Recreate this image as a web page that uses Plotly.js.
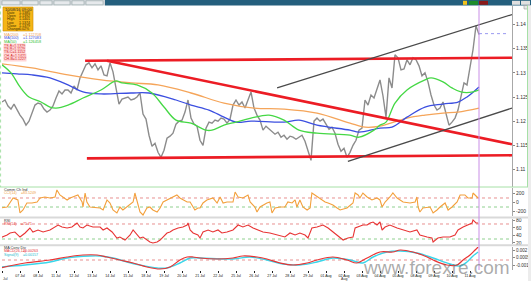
<!DOCTYPE html>
<html><head><meta charset="utf-8">
<script src="https://cdn.plot.ly/plotly-3.0.1.min.js"></script>
<style>html,body{margin:0;padding:0;background:#fff;overflow:hidden}#c{width:531px;height:281px}</style>
</head><body><div id="c"></div>
<script>
// ---- price closes (one per bar) ----
const closes = [1.12396,1.12438,1.12313,1.1225,1.12354,1.12229,1.12125,1.12042,1.11917,1.12,
1.12188,1.12333,1.12375,1.12354,1.1225,1.12188,1.12229,1.12313,1.12479,1.12625,
1.12563,1.12646,1.12646,1.12583,1.12729,1.12646,1.12896,1.13021,1.13167,1.13208,
1.13104,1.13188,1.13063,1.13146,1.12958,1.12938,1.13208,1.13021,1.12646,1.12354,
1.12458,1.12479,1.125,1.12438,1.12458,1.125,1.12583,1.12146,1.12042,1.11708,
1.11479,1.11542,1.11354,1.1125,1.11396,1.11646,1.11688,1.1175,1.11938,1.12,
1.12021,1.12188,1.12438,1.12063,1.11938,1.11896,1.11604,1.115,1.11854,1.11979,
1.11958,1.12021,1.12,1.12063,1.12042,1.11958,1.12042,1.12333,1.12438,1.12333,
1.12396,1.12271,1.12438,1.12604,1.12271,1.12125,1.12021,1.11813,1.11896,1.11833,
1.11792,1.11729,1.11771,1.11667,1.11708,1.11625,1.11688,1.11667,1.11625,1.11667,
1.11708,1.11583,1.11396,1.11188,1.12,1.12063,1.12,1.12042,1.11938,1.11833,
1.11875,1.1175,1.11521,1.11375,1.11438,1.1125,1.11354,1.115,1.11604,1.11813,
1.11854,1.12438,1.12333,1.12542,1.12479,1.12646,1.12854,1.12521,1.12083,1.12896,
1.12688,1.13375,1.13313,1.13063,1.13083,1.13271,1.13167,1.13313,1.13271,1.13146,
1.12938,1.13,1.12813,1.12542,1.12333,1.12229,1.12271,1.12396,1.12167,1.11917,
1.11979,1.12063,1.12229,1.125,1.12792,1.1275,1.13104,1.13479,1.13979,1.13792];

// ---- moving averages ----
const maSlowBars = [0,10,22,33,43,52,63,74,84,94,105,116,121,126,135,141,147,152,159];
const maSlow = [1.13188,1.13104,1.12958,1.12854,1.12792,1.1275,1.12583,1.12375,1.12271,1.1225,1.12167,1.11958,1.11875,1.11896,1.12063,1.12125,1.12167,1.12188,1.12271];
const maMidBars = [0,5,10,16,22,27,33,43,49,58,63,69,74,78,83,94,99,105,116,119,126,130,135,141,147,152,155,159];
const maMid = [1.13,1.12979,1.12958,1.12896,1.1275,1.12604,1.12563,1.12583,1.12583,1.12438,1.12333,1.12229,1.12083,1.11979,1.12,1.11979,1.12021,1.11917,1.11813,1.11771,1.11854,1.11875,1.12083,1.12292,1.12354,1.12396,1.125,1.12708];
const maFastBars = [0,3,6,9,13,16,18,22,27,33,38,40,45,50,54,58,63,68,70,74,78,83,89,94,99,105,116,119,124,126,128,131,135,141,143,147,150,153,157,159];
const maFast = [1.13167,1.13,1.12708,1.125,1.12396,1.12292,1.12271,1.12333,1.12479,1.12646,1.12833,1.12792,1.1275,1.12583,1.12292,1.12021,1.11958,1.11813,1.11813,1.11917,1.11979,1.12063,1.12125,1.12021,1.11813,1.1175,1.11708,1.11667,1.11813,1.11917,1.11979,1.12375,1.12646,1.12854,1.12896,1.12813,1.12688,1.12604,1.12604,1.12646];

// ---- drawn trend lines (bar, price) ----
const resBars = [27.7,170], resLine = [1.1325,1.13313];
const supBars = [28.3,170], supLine = [1.11229,1.11292];
const descBars = [35,170], descLine = [1.1325,1.11521];
const chUpBars = [91.7,170], chUp = [1.12688,1.14208];
const chLoBars = [115.3,170], chLo = [1.11167,1.12271];
const lastPrice = 1.13813;

// ---- CCI(14) ----
const cciBars = [-0.7,1.7,3.7,5.3,6,7,8.3,10,11.7,12.7,14.3,16,17.7,18.3,19.3,20.3,21.7,22.7,23.7,25.3,26.7,27,27.7,28.3,29.3,31.7,32.7,33.7,35,36,37,38.3,39.3,40.3,41.7,43.7,44.3,45,46,47,48.3,49.3,50.3,51.7,52.7,53.7,55,56,57,58.3,59.3,60.3,61.7,62.7,63.7,64.3,65.3,66,67,68.3,70.3,71.7,72.7,73.7,75,77,77.7,78.7,80.3,82,82.7,84.3,85,86,88.3,89.3,90,91,92.7,94.3,95.3,96.7,97.7,98.3,99.3,100.3,101.7,102.7,103.3,104.3,106,107.7,108.7,110.3,111.7,112.7,115,117,117.7,118.7,119.3,120.3,121.7,123.3,125,126,126.7,127.7,129.3,130.3,131.7,133.7,136,137.7,138.3,138.7,139.3,140.3,142.7,143.7,145,146,147.7,148.7,150,151.7,152.7,154.3,155.3,156.7,157,158.3,158.7];
const cci = [-122,-100,100,56,-233,-167,-11,-11,11,100,122,100,122,278,167,122,56,100,122,167,11,-100,211,11,-100,-122,-122,-167,56,-11,-167,-233,-100,-167,-100,11,211,56,-211,-278,-122,-100,-167,-211,-122,11,56,100,122,167,100,56,11,11,-100,-167,-122,-122,-11,56,100,-11,122,-11,11,11,233,122,100,167,11,-100,-211,-100,-11,11,-233,-122,-100,-100,11,-11,56,-100,56,-100,-167,-122,211,167,100,11,-11,-56,-122,-167,-122,-11,211,167,100,211,122,56,100,56,-100,11,122,211,100,11,-11,11,122,-100,-211,-122,-100,-233,-167,-100,-11,-167,-100,11,167,167,100,100,211,122,100];

// ---- RSI(14) ----
const rsiBars = [-0.7,0.3,1.7,2.7,4.3,6,7.7,9.3,10.3,12,13.7,16,17.7,18.7,20,21.7,23.3,25,26,27,28.3,30.3,32.7,33.7,35,36.7,38.3,39.3,41,42.7,43.7,45,46,47,48.3,49.3,50.3,51.7,52.7,53.7,55,56,57,58.7,60.3,61.7,62,62.7,63.7,65.3,66,67,68.7,70.3,72,73.3,75,77,78.7,80.3,82,83.7,85.3,87,89.3,91.7,94.3,96,97.7,99.3,101,102,103.3,105,107,108.7,110.3,112.7,113.7,115.3,117,117.7,118.7,120.3,121.7,122.7,123.7,125,126,126.7,127.7,129.3,131.7,133.7,136,138.3,139.3,141.7,143.3,143.7,145.3,147,149.3,151,152,153.7,155,156.7,157,158,158.7];
const rsi = [32.7,35.3,40.7,46,48.7,35.3,46,59.3,48.7,54,48.7,54,62,67.3,62,59.3,62,72.7,62,59.3,67.3,62,62,54,59.3,48.7,32.7,35.3,27.3,40.7,54,40.7,32.7,35.3,27.3,22,19.3,22,27.3,35.3,46,48.7,54,59.3,62,67.3,72.7,54,46,40.7,32.7,48.7,54,48.7,54,46,48.7,54,67.3,62,67.3,59.3,54,48.7,46,40.7,35.3,46,40.7,46,40.7,32.7,59.3,62,67.3,59.3,48.7,35.3,27.3,32.7,35.3,59.3,62,67.3,67.3,72.7,75.3,67.3,75.3,54,62,67.3,59.3,54,48.7,54,40.7,35.3,32.7,22,32.7,35.3,35.3,40.7,54,62,67.3,72.7,80.7,72.7,72.7];

// ---- MACD(26,12) and signal(9) ----
const macdBars = [-0.7,7.7,16,21.7,27,31.7,35,39.3,43.7,48.3,52.7,56,59.3,61.7,63.7,66,71.7,77,80.3,85,88.3,92.7,97,101.7,105,110.3,115,118.3,121.7,126,130.3,132.7,137,141.7,143.7,148.3,151.7,153.7,156,157.7,158.7];
const macd = [-0.0016,-0.0006,0,0.0006,0.001,0.001,0.0006,0,-0.0006,-0.0014,-0.0018,-0.0014,0,0.0006,0.0006,0.0004,0.0002,0.0004,0.0008,0.0006,0.0002,-0.0006,-0.001,-0.0006,0,0.0006,0,-0.0006,0.0004,0.0016,0.0016,0.002,0.0016,0.0006,0,-0.001,-0.001,0,0.001,0.002,0.0026];
const sigBars = [-0.7,7.7,16,21.7,29.3,32.7,37,41.7,46,51.7,55,59.3,62.7,66,77,82.7,88.3,93.7,99.3,105,110.3,116,120.3,123.7,128.3,132.7,138.3,143.7,149.3,152.7,155,157,158.7];
const signal = [-0.0014,-0.001,-0.0004,0.0004,0.0008,0.0008,0.0004,-0.0004,-0.001,-0.0016,-0.0016,-0.0006,0.0004,0.0004,0.0002,0.0006,0,-0.0008,-0.001,-0.0004,0.0004,0,-0.0006,0.0006,0.0016,0.0018,0.0014,0.0004,-0.0008,-0.0012,-0.0004,0.0008,0.0016];

// ---- axis ticks ----
const priceTicks = [1.11,1.115,1.12,1.125,1.13,1.135,1.14];
const priceTickText = ['1.11','1.115','1.12','1.125','1.13','1.135','1.14'];
const cciTicks = [200,0,-200], cciTickText = ['200','0','-200'];
const rsiTicks = [80,60,40,20], rsiTickText = ['80','60','40','20'];
const macdTicks = [0.002,0.0005,-0.001], macdTickText = ['0.002','0.0005','-0.001'];
const timeTicks = [0,6,12,18,24,30,36,42,48,54,60,66,72,78,84,90,96,102,108,114,120,126,132,138,144,150,156];
const timeTickText = ['06 Jul','07 Jul','08 Jul','11 Jul','12 Jul','13 Jul','14 Jul','15 Jul','18 Jul','19 Jul','20 Jul','21 Jul','22 Jul','25 Jul','26 Jul','27 Jul','28 Jul','29 Jul','01 Aug','02 Aug','03 Aug','04 Aug','05 Aug','08 Aug','09 Aug','10 Aug','11 Aug'];

const bars = closes.map((_, i) => i);

// ---------- layout helpers (pixel -> paper) ----------
const W = 531, H = 281, ML = 2, MR = 19;
const px = x => (x - ML) / (W - ML - MR);
const py = y => 1 - y / H;
const dom = (top, bot) => [py(bot), py(top)];

const FONT = 'Liberation Sans, Arial, sans-serif';
const line = (x, y, color, width, yaxis, extra) => Object.assign({
  type: 'scatter', mode: 'lines', x, y, xaxis: 'x', yaxis: yaxis || 'y',
  line: { color, width }, hoverinfo: 'skip'
}, extra || {});

const traces = [
  line(bars, closes, '#8c8c8c', 1.4, 'y'),
  line(maSlowBars, maSlow, '#f5a55a', 1.3, 'y', { line: { color: '#f5a55a', width: 1.3, shape: 'spline' } }),
  line(maMidBars, maMid, '#3c4fe0', 1.3, 'y', { line: { color: '#3c4fe0', width: 1.3, shape: 'spline' } }),
  line(maFastBars, maFast, '#45d845', 1.3, 'y', { line: { color: '#45d845', width: 1.3, shape: 'spline' } }),
  line(resBars, resLine, '#ec1c24', 2.6),
  line(supBars, supLine, '#ec1c24', 2.6),
  line(descBars, descLine, '#ec1c24', 2.6),
  line(chUpBars, chUp, '#4a4a4a', 1.3),
  line(chLoBars, chLo, '#4a4a4a', 1.3),
  line(cciBars, cci, '#f3a03c', 1.1, 'y2'),
  line(rsiBars, rsi, '#e83434', 1.1, 'y3'),
  line(sigBars, signal, '#3ad6ea', 1.4, 'y4', { line: { color: '#3ad6ea', width: 1.4, shape: 'spline' } }),
  line(macdBars, macd, '#e83434', 1.2, 'y4', { line: { color: '#e83434', width: 1.2, shape: 'spline' } })
];

const axY = (domain, range, tickvals, ticktext, fs) => ({
  domain, range, side: 'right', anchor: 'x', tickvals, ticktext,
  tickfont: { size: fs || 5, color: '#333', family: FONT }, ticks: 'outside', ticklen: 2, tickcolor: '#888',
  showgrid: false, zeroline: false, showline: true, linecolor: '#a8a8a8', linewidth: 1, fixedrange: true
});

const shapes = [];
const rect = (x0, y0, x1, y1, fill, lineColor) => shapes.push({
  type: 'rect', xref: 'paper', yref: 'paper', x0: px(x0), x1: px(x1), y0: py(y1), y1: py(y0),
  fillcolor: fill, line: { width: lineColor ? 0.6 : 0, color: lineColor || fill }, layer: 'above'
});
const hline = (x0, x1, y, color, width, dash) => shapes.push({
  type: 'line', xref: 'paper', yref: 'paper', x0: px(x0), x1: px(x1), y0: py(y), y1: py(y),
  line: { color, width, dash: dash || 'solid' }, layer: 'above'
});
const vline = (x, y0, y1, color, width, dash) => shapes.push({
  type: 'line', xref: 'paper', yref: 'paper', x0: px(x), x1: px(x), y0: py(y0), y1: py(y1),
  line: { color, width, dash: dash || 'solid' }, layer: 'above'
});

// top toolbar
rect(0, 0, 105, 5.5, '#cdd3d8');
rect(105, 0, 531, 5.5, '#245f7d');
rect(2, 0.8, 20, 4.8, '#e6e9ec', '#9aa');
rect(22, 0.8, 38, 4.8, '#e6e9ec', '#9aa');
rect(40, 0.8, 52, 4.8, '#e6e9ec', '#9aa');
rect(54, 0.8, 70, 4.8, '#e6e9ec', '#9aa');
rect(72, 0.8, 84, 4.8, '#e6e9ec', '#9aa');
rect(86, 0.8, 103, 4.8, '#e6e9ec', '#9aa');
rect(463, 0.8, 467, 4.8, '#f3c21a');
rect(469, 0.8, 478, 4.8, '#1d8c2a');
rect(479, 0.8, 488, 4.8, '#8a1a1a');
rect(512, 0.8, 520, 4.8, '#e0e0e0');
rect(521, 0.8, 530, 4.8, '#e0e0e0');
rect(524, 5.5, 530, 9, '#e8e8e8', '#999');
// main-panel frame (light green)
vline(0.6, 5.5, 187, '#a6e0a6', 1, 'dot');
hline(0, 528, 187, '#a6e0a6', 1);
vline(527.5, 5.5, 187, '#a6e0a6', 1);
rect(528, 5.5, 531, 281, '#ececec');
// panel separators
rect(0, 216.6, 528, 218.6, '#d9d9d9');
rect(0, 244.3, 528, 246.3, '#d9d9d9');
// indicator level lines
const lvl = (yref, y, color) => shapes.push({
  type: 'line', xref: 'paper', yref, x0: 0, x1: 1, y0: y, y1: y,
  line: { color, width: 1, dash: 'dot' }, layer: 'below'
});
lvl('y2', 100, '#e89090'); lvl('y2', -100, '#8fd08f');
lvl('y3', 70, '#e89090'); lvl('y3', 30, '#8fd08f');
lvl('y4', 0, '#e89090');
// current bar marker + last price
shapes.push({ type: 'line', xref: 'x', yref: 'paper', x0: bars[bars.length - 1], x1: bars[bars.length - 1],
  y0: py(270), y1: py(5.5), line: { color: '#c98ee6', width: 1 }, layer: 'above' });
shapes.push({ type: 'line', xref: 'x', yref: 'y', x0: bars[bars.length - 1], x1: 168.5, y0: lastPrice, y1: lastPrice,
  line: { color: '#9a9af0', width: 1, dash: 'dot' }, layer: 'above' });
// info box
rect(3, 7, 33, 31, '#f5b516', '#c98a00');

const ann = [];
const T = (x, y, text, color, size, anchor, bg) => ann.push({
  xref: 'paper', yref: 'paper', x: px(x), y: py(y), text, showarrow: false,
  xanchor: anchor || 'left', yanchor: 'middle',
  font: { size: size || 4, color: color || '#222', family: FONT },
  bgcolor: bg || 'rgba(0,0,0,0)', borderpad: 0
});
T(18, 9.3, '10/08/16 09:00', '#2a2a2a', 4, 'center');
const infoL = ['Date', 'Open', 'High', 'Low', 'Close', 'Change'];
const infoV = ['1.1385', '1.1392', '1.1401', '1.1374', '1.1379', '0.02%'];
infoL.forEach((s, k) => { T(6, 12.6 + k * 3.3, s, '#3a2a00', 3.6); T(31, 12.6 + k * 3.3, infoV[k], '#3a2a00', 3.6, 'right'); });
T(3, 34.5, 'MA(200)', '#f0a050', 3.8); T(22, 34.5, '=1.122708', '#f0a050', 3.8);
T(3, 38.3, 'MA(100)', '#3c4fe0', 3.8); T(22, 38.3, '=1.127083', '#3c4fe0', 3.8);
T(3, 42, 'MA(50)', '#30c030', 3.8); T(22, 42, '=1.126458', '#30c030', 3.8);
['TS-A=1.1329', 'TS-B=1.1129', 'TS-C=1.1152', 'CH-A=1.1421', 'CH-B=1.1227'].forEach((s, k) =>
  T(3, 45.6 + k * 3.4, s, '#d02020', 3.6, 'left', '#ffd6d6'));
// indicator titles
T(3, 190, 'Comm Ch Ind', '#333', 3.8);
T(3, 193.5, 'CCI(14)', '#f0a040', 3.6); T(20, 193.5, '=83.5249', '#f0a040', 3.6);
T(3, 220.5, 'RSI', '#333', 3.8);
T(3, 223.8, 'RSI(14)', '#e83434', 3.6); T(20, 223.8, '=71.71', '#e83434', 3.6);
T(3, 248, 'MA Conv Div', '#333', 3.8);
T(3, 251.3, 'MACD(26,12)', '#e83434', 3.6); T(22, 251.3, '=0.00263', '#e83434', 3.6);
T(3, 254.8, 'Signal(9)', '#22b8cc', 3.6); T(22, 254.8, '=0.00157', '#22b8cc', 3.6);
T(2, 279, 'Jul', '#333', 3.6);
T(340, 279.2, 'Aug', '#333', 3.6);
// watermark
ann.push({ xref: 'paper', yref: 'paper', x: px(436), y: py(267), text: 'www.forexre.com', showarrow: false,
  xanchor: 'center', yanchor: 'middle', font: { size: 19, color: 'rgba(115,115,115,0.6)', family: FONT } });

const layout = {
  width: W, height: H, margin: { l: ML, r: MR, t: 0, b: 0 },
  paper_bgcolor: '#ffffff', plot_bgcolor: '#ffffff', showlegend: false, font: { family: FONT },
  xaxis: { domain: [0, 1], range: [0, 170], anchor: 'y4', tickvals: timeTicks, ticktext: timeTickText,
    tickfont: { size: 3.6, color: '#111', family: FONT }, ticks: 'outside', ticklen: 1.5, tickcolor: '#222',
    showgrid: false, zeroline: false, showline: false, fixedrange: true },
  yaxis: axY(dom(5.5, 186.5), [1.106458, 1.143958], priceTicks, priceTickText),
  yaxis2: axY(dom(188, 216), [-300, 322], cciTicks, cciTickText),
  yaxis3: axY(dom(219, 244), [16.7, 83.3], rsiTicks, rsiTickText),
  yaxis4: axY(dom(247, 270), [-0.002, 0.0026], macdTicks, macdTickText, 4.5),
  shapes, annotations: ann
};
Plotly.newPlot('c', traces, layout, { staticPlot: true, displayModeBar: false });
</script></body></html>
